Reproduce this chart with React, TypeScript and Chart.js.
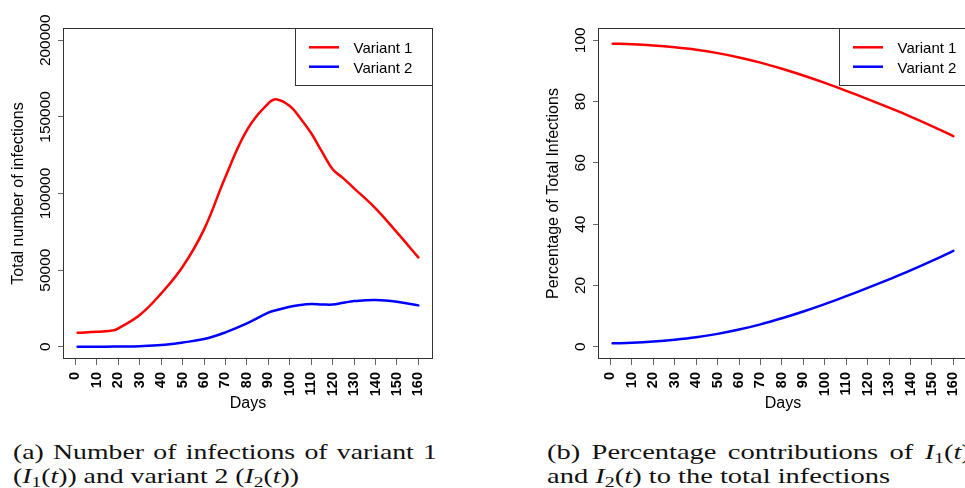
import React, { useEffect, useLayoutEffect, useRef } from "react";
import { Chart, registerables } from "chart.js";

Chart.register(...registerables);

// ---------- data ----------
const countDays = [1, 10, 18, 20, 30, 40, 50, 60, 70, 80, 90, 94, 100, 105, 110, 115, 120, 125, 130, 140, 150, 160];
const countVariant1 = [9100, 9800, 10700, 12000, 20700, 34800, 52200, 76600, 111000, 141400, 158800, 161400, 157100, 149000, 139300, 127300, 115800, 109900, 103400, 90300, 74600, 58300];
const countVariant2 = [0, 0, 100, 150, 400, 1100, 2800, 5000, 9400, 15200, 22200, 24000, 26100, 27300, 27900, 27600, 27500, 28700, 29800, 30500, 29400, 27000];

const pctDays = [1, 10, 20, 30, 40, 50, 60, 70, 80, 90, 100, 110, 120, 130, 140, 150, 160];
const pctVariant1 = [98.9, 98.7, 98.3, 97.7, 96.9, 95.8, 94.4, 92.7, 90.7, 88.5, 86.1, 83.5, 80.8, 78.0, 75.1, 72.0, 68.7];
const pctVariant2 = [1.1, 1.3, 1.7, 2.3, 3.1, 4.2, 5.6, 7.3, 9.3, 11.5, 13.9, 16.5, 19.2, 22.0, 24.9, 28.0, 31.3];

const seriesNames = ["Variant 1", "Variant 2"];
const seriesColors = ["#FF0000", "#0000FF"];

const xTicks = [0, 10, 20, 30, 40, 50, 60, 70, 80, 90, 100, 110, 120, 130, 140, 150, 160];
const countYTicks = [0, 50000, 100000, 150000, 200000];
const pctYTicks = [0, 20, 40, 60, 80, 100];

const SANS = '"Liberation Sans", Arial, Helvetica, sans-serif';

type PanelCfg = {
  width: number;
  height: number;
  yWidth: number;
  padRight: number;
  yMin: number;
  yMax: number;
  yTicks: number[];
  yTitle: string;
  legendFromRight: number;
  days: number[];
  series: number[][];
};

function framePlugin(cfg: PanelCfg) {
  return {
    id: "rframe",
    afterDraw(chart: any) {
      const { ctx, chartArea: a } = chart;
      const ys = chart.scales.y;
      ctx.save();
      // plot box
      ctx.strokeStyle = "#333";
      ctx.lineWidth = 1;
      ctx.strokeRect(a.left - 0.5, a.top + 0.5, a.right - a.left + 1, a.bottom - a.top - 1);

      // y tick labels (rotated, R style)
      ctx.fillStyle = "#000";
      ctx.font = `15.5px ${SANS}`;
      ctx.textAlign = "center";
      ctx.textBaseline = "alphabetic";
      for (const v of cfg.yTicks) {
        const py = ys.getPixelForValue(v);
        ctx.save();
        ctx.translate(a.left - 14.5, py);
        ctx.rotate(-Math.PI / 2);
        ctx.fillText(String(v), 0, 0);
        ctx.restore();
      }

      // axis titles
      ctx.font = `16px ${SANS}`;
      ctx.save();
      ctx.translate(a.left - 45.5, (a.top + a.bottom) / 2);
      ctx.rotate(-Math.PI / 2);
      ctx.textBaseline = "middle";
      ctx.fillText(cfg.yTitle, 0, 0);
      ctx.restore();
      ctx.textBaseline = "alphabetic";
      ctx.fillText("Days", (a.left + a.right) / 2, a.bottom + 49);

      // legend
      const bx = Math.round(a.right - cfg.legendFromRight);
      const by = a.top;
      ctx.fillStyle = "#fff";
      ctx.fillRect(bx + 0.5, by + 0.5, 137, 57);
      ctx.strokeStyle = "#333";
      ctx.lineWidth = 1;
      ctx.strokeRect(bx + 0.5, by + 0.5, 137, 57);
      ctx.font = `15px ${SANS}`;
      ctx.textAlign = "left";
      const rowsLine = [19.3, 38.7];
      const rowsText = [25.3, 45];
      seriesNames.forEach((name, i) => {
        ctx.strokeStyle = seriesColors[i];
        ctx.lineWidth = 2.5;
        ctx.beginPath();
        ctx.moveTo(bx + 14, by + rowsLine[i]);
        ctx.lineTo(bx + 44, by + rowsLine[i]);
        ctx.stroke();
        ctx.fillStyle = "#000";
        ctx.fillText(name, bx + 58.5, by + rowsText[i]);
      });
      ctx.restore();
    },
  };
}

function Panel({ cfg, left }: { cfg: PanelCfg; left: number }) {
  const ref = useRef<HTMLCanvasElement | null>(null);
  useEffect(() => {
    if (!ref.current) return;
    const chart = new Chart(ref.current, {
      type: "line",
      data: {
        datasets: cfg.series.map((vals, i) => ({
          label: seriesNames[i],
          data: cfg.days.map((d, j) => ({ x: d, y: vals[j] })),
          borderColor: seriesColors[i],
          backgroundColor: seriesColors[i],
          borderWidth: 2.5,
          pointRadius: 0,
          fill: false,
          tension: 0.4,
          borderCapStyle: "round",
          borderJoinStyle: "round",
        })),
      },
      options: {
        animation: false,
        responsive: false,
        maintainAspectRatio: false,
        devicePixelRatio: 1,
        events: [],
        layout: { padding: { left: 0, top: 28, right: cfg.padRight, bottom: 0 } },
        plugins: { legend: { display: false }, tooltip: { enabled: false }, title: { display: false } },
        scales: {
          x: {
            type: "linear",
            min: -5.36,
            max: 166.36,
            afterBuildTicks: (s: any) => {
              s.ticks = xTicks.map((value) => ({ value }));
            },
            afterFit: (s: any) => {
              s.height = cfg.height - 359;
            },
            grid: { display: true, drawOnChartArea: false, drawTicks: true, tickLength: 6, color: "#666", lineWidth: 1 },
            border: { display: false },
            ticks: {
              autoSkip: false,
              minRotation: 90,
              maxRotation: 90,
              padding: 7,
              color: "#000",
              font: { family: SANS, size: 14.5, weight: "bold" },
              callback: (v: any) => String(v),
            },
          },
          y: {
            type: "linear",
            min: cfg.yMin,
            max: cfg.yMax,
            afterBuildTicks: (s: any) => {
              s.ticks = cfg.yTicks.map((value) => ({ value }));
            },
            afterFit: (s: any) => {
              s.width = cfg.yWidth;
            },
            grid: { display: true, drawOnChartArea: false, drawTicks: true, tickLength: 6, color: "#666", lineWidth: 1 },
            border: { display: false },
            ticks: { display: false },
          },
        },
      },
      plugins: [framePlugin(cfg)],
    } as any);
    return () => chart.destroy();
  }, [cfg]);
  return (
    <canvas
      ref={ref}
      width={cfg.width}
      height={cfg.height}
      style={{ position: "absolute", left, top: 0, width: cfg.width, height: cfg.height }}
    />
  );
}

const leftCfg: PanelCfg = {
  width: 482,
  height: 420,
  yWidth: 64,
  padRight: 50,
  yMin: -8000,
  yMax: 208000,
  yTicks: countYTicks,
  yTitle: "Total number of infections",
  legendFromRight: 137,
  days: countDays,
  series: [countVariant1, countVariant2],
};

const rightCfg: PanelCfg = {
  width: 520,
  height: 420,
  yWidth: 117,
  padRight: 35,
  yMin: -4,
  yMax: 104,
  yTicks: pctYTicks,
  yTitle: "Percentage of Total Infections",
  legendFromRight: 128,
  days: pctDays,
  series: [pctVariant1, pctVariant2],
};

const SERIF = '"Liberation Serif", "DejaVu Serif", serif';

function CaptionBlock({
  left,
  line1,
  line2,
  target1,
  target2,
}: {
  left: number;
  line1: React.ReactNode;
  line2: React.ReactNode;
  target1: number;
  target2: number;
}) {
  const r1 = useRef<HTMLDivElement | null>(null);
  const r2 = useRef<HTMLDivElement | null>(null);
  useLayoutEffect(() => {
    const e1 = r1.current!;
    const e2 = r2.current!;
    e1.style.transform = "none";
    e2.style.transform = "none";
    e1.style.wordSpacing = "0px";
    const w1 = e1.getBoundingClientRect().width;
    const w2 = e2.getBoundingClientRect().width;
    const s = target2 / w2;
    const spaces = (e1.textContent || "").split(" ").length - 1;
    const extra = (target1 / s - w1) / Math.max(1, spaces);
    e1.style.wordSpacing = `${extra}px`;
    e1.style.transform = `scaleX(${s})`;
    e2.style.transform = `scaleX(${s})`;
  }, []);
  const base: React.CSSProperties = {
    position: "absolute",
    left,
    fontFamily: SERIF,
    fontSize: 21,
    lineHeight: "21px",
    whiteSpace: "nowrap",
    transformOrigin: "0 0",
    color: "#111",
    display: "inline-block",
  };
  return (
    <>
      <div ref={r1} style={{ ...base, top: 441.5 }}>{line1}</div>
      <div ref={r2} style={{ ...base, top: 465.5 }}>{line2}</div>
    </>
  );
}

const subStyle: React.CSSProperties = { fontSize: "0.7em", verticalAlign: "-0.3em", lineHeight: 0 };

export default function App() {
  return (
    <div
      style={{
        position: "fixed",
        left: 0,
        top: 0,
        width: 965,
        height: 488,
        overflow: "hidden",
        background: "#fff",
      }}
    >
      <Panel cfg={leftCfg} left={0} />
      <Panel cfg={rightCfg} left={482} />
      <CaptionBlock
        left={13}
        target1={424}
        target2={286}
        line1={<>(a) Number of infections of variant 1</>}
        line2={
          <>
            (<i>I</i>
            <sub style={subStyle}>1</sub>(<i>t</i>)) and variant 2 (<i>I</i>
            <sub style={subStyle}>2</sub>(<i>t</i>))
          </>
        }
      />
      <CaptionBlock
        left={547}
        target1={424}
        target2={343}
        line1={
          <>
            (b) Percentage contributions of <i>I</i>
            <sub style={subStyle}>1</sub>(<i>t</i>)
          </>
        }
        line2={
          <>
            and <i>I</i>
            <sub style={subStyle}>2</sub>(<i>t</i>) to the total infections
          </>
        }
      />
    </div>
  );
}
